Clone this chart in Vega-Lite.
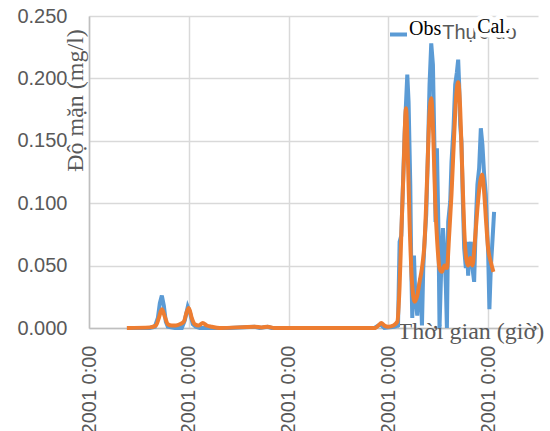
{
  "$schema": "https://vega.github.io/schema/vega-lite/v6.json",
  "width": 449,
  "height": 312,
  "autosize": "none",
  "padding": {"left": 89, "top": 16, "right": 12, "bottom": 103},
  "background": "white",
  "config": {"view": {"stroke": null}},
  "datasets": {
    "obs": [
      {"time":0.38,"salinity":0},{"time":0.61,"salinity":0},{"time":0.66,"salinity":0.001},{"time":0.69,"salinity":0.008},{"time":0.71,"salinity":0.02},{"time":0.73,"salinity":0.026},{"time":0.75,"salinity":0.018},{"time":0.77,"salinity":0.005},{"time":0.79,"salinity":0.001},{"time":0.86,"salinity":0},{"time":0.93,"salinity":0},{"time":0.96,"salinity":0.006},{"time":0.99,"salinity":0.017},{"time":1.01,"salinity":0.013},{"time":1.04,"salinity":0.003},{"time":1.07,"salinity":0.001},{"time":1.11,"salinity":0},{"time":1.41,"salinity":0},{"time":1.66,"salinity":0.001},{"time":1.71,"salinity":0},{"time":1.79,"salinity":0.001},{"time":1.83,"salinity":0},{"time":2.86,"salinity":0},{"time":2.92,"salinity":0.003},{"time":2.96,"salinity":0},{"time":3.06,"salinity":0.001},{"time":3.097,"salinity":0.002},{"time":3.113,"salinity":0.069},{"time":3.13,"salinity":0.074},{"time":3.163,"salinity":0.155},{"time":3.19,"salinity":0.203},{"time":3.203,"salinity":0.181},{"time":3.22,"salinity":0.115},{"time":3.23,"salinity":0.048},{"time":3.24,"salinity":0.008},{"time":3.257,"salinity":0.058},{"time":3.27,"salinity":0.026},{"time":3.29,"salinity":0.01},{"time":3.307,"salinity":0.032},{"time":3.323,"salinity":0.04},{"time":3.337,"salinity":0.002},{"time":3.35,"salinity":0.048},{"time":3.363,"salinity":0.069},{"time":3.38,"salinity":0.091},{"time":3.397,"salinity":0.141},{"time":3.413,"salinity":0.195},{"time":3.43,"salinity":0.228},{"time":3.447,"salinity":0.211},{"time":3.463,"salinity":0.141},{"time":3.473,"salinity":0.085},{"time":3.487,"salinity":0.144},{"time":3.503,"salinity":0.075},{"time":3.513,"salinity":0},{"time":3.53,"salinity":0.048},{"time":3.547,"salinity":0.08},{"time":3.563,"salinity":0.061},{"time":3.577,"salinity":0.032},{"time":3.587,"salinity":0},{"time":3.6,"salinity":0.085},{"time":3.62,"salinity":0.101},{"time":3.633,"salinity":0.133},{"time":3.653,"salinity":0.16},{"time":3.67,"salinity":0.195},{"time":3.687,"salinity":0.205},{"time":3.7,"salinity":0.215},{"time":3.71,"salinity":0.195},{"time":3.72,"salinity":0.163},{"time":3.733,"salinity":0.149},{"time":3.747,"salinity":0.101},{"time":3.76,"salinity":0.064},{"time":3.777,"salinity":0.048},{"time":3.787,"salinity":0.069},{"time":3.8,"salinity":0.042},{"time":3.81,"salinity":0.061},{"time":3.827,"salinity":0.069},{"time":3.843,"salinity":0.048},{"time":3.86,"salinity":0.037},{"time":3.877,"salinity":0.085},{"time":3.893,"salinity":0.115},{"time":3.91,"salinity":0.128},{"time":3.927,"salinity":0.16},{"time":3.943,"salinity":0.147},{"time":3.96,"salinity":0.123},{"time":3.977,"salinity":0.107},{"time":3.987,"salinity":0.085},{"time":4.0,"salinity":0.061},{"time":4.013,"salinity":0.015},{"time":4.027,"salinity":0.048},{"time":4.043,"salinity":0.069},{"time":4.06,"salinity":0.093}
    ],
    "cal": [
      {"time":0.38,"salinity":0},{"time":0.61,"salinity":0.0005},{"time":0.67,"salinity":0.002},{"time":0.7,"salinity":0.008},{"time":0.73,"salinity":0.015},{"time":0.76,"salinity":0.009},{"time":0.79,"salinity":0.003},{"time":0.83,"salinity":0.002},{"time":0.87,"salinity":0.002},{"time":0.91,"salinity":0.003},{"time":0.95,"salinity":0.005},{"time":0.98,"salinity":0.013},{"time":1.0,"salinity":0.016},{"time":1.03,"salinity":0.008},{"time":1.06,"salinity":0.003},{"time":1.1,"salinity":0.002},{"time":1.14,"salinity":0.004},{"time":1.18,"salinity":0.002},{"time":1.23,"salinity":0.001},{"time":1.31,"salinity":0},{"time":1.66,"salinity":0.001},{"time":1.73,"salinity":0.0005},{"time":1.79,"salinity":0.001},{"time":1.86,"salinity":0},{"time":2.87,"salinity":0},{"time":2.9,"salinity":0.002},{"time":2.93,"salinity":0.004},{"time":2.96,"salinity":0.002},{"time":3.0,"salinity":0.001},{"time":3.05,"salinity":0.002},{"time":3.09,"salinity":0.005},{"time":3.113,"salinity":0.034},{"time":3.13,"salinity":0.075},{"time":3.153,"salinity":0.128},{"time":3.177,"salinity":0.176},{"time":3.197,"salinity":0.133},{"time":3.213,"salinity":0.085},{"time":3.237,"salinity":0.037},{"time":3.263,"salinity":0.021},{"time":3.29,"salinity":0.026},{"time":3.313,"salinity":0.037},{"time":3.337,"salinity":0.048},{"time":3.363,"salinity":0.069},{"time":3.39,"salinity":0.123},{"time":3.41,"salinity":0.168},{"time":3.43,"salinity":0.184},{"time":3.45,"salinity":0.155},{"time":3.47,"salinity":0.101},{"time":3.49,"salinity":0.069},{"time":3.513,"salinity":0.048},{"time":3.537,"salinity":0.045},{"time":3.563,"salinity":0.05},{"time":3.587,"salinity":0.048},{"time":3.61,"salinity":0.075},{"time":3.633,"salinity":0.107},{"time":3.66,"salinity":0.155},{"time":3.683,"salinity":0.189},{"time":3.7,"salinity":0.197},{"time":3.72,"salinity":0.176},{"time":3.74,"salinity":0.128},{"time":3.76,"salinity":0.08},{"time":3.78,"salinity":0.056},{"time":3.8,"salinity":0.05},{"time":3.82,"salinity":0.056},{"time":3.843,"salinity":0.05},{"time":3.867,"salinity":0.069},{"time":3.893,"salinity":0.096},{"time":3.92,"salinity":0.117},{"time":3.94,"salinity":0.123},{"time":3.96,"salinity":0.109},{"time":3.98,"salinity":0.085},{"time":4.0,"salinity":0.064},{"time":4.027,"salinity":0.053},{"time":4.053,"salinity":0.045}
    ],
    "notes": [
      {"note": "Thực đo", "at_time": 3.54, "at_salinity": 0.2316},
      {"note": "Cal.", "at_time": 3.89, "at_salinity": 0.2364}
    ]
  },
  "layer": [
    {
      "data": {"name": "obs"},
      "transform": [{"calculate": "'Obs'", "as": "series"}],
      "mark": {"type": "line", "strokeWidth": 4},
      "encoding": {
        "x": {
          "field": "time", "type": "quantitative",
          "scale": {"domain": [0, 4.5], "nice": false, "zero": false},
          "axis": {
            "values": [0, 1, 2, 3, 4],
            "labelExpr": "'2001 0:00'",
            "labelAngle": 270,
            "labelFont": "Liberation Sans", "labelFontSize": 20, "labelColor": "#595959",
            "labelPadding": 17, "labelFlush": false, "labelOverlap": false, "labelBound": false,
            "ticks": false, "domainColor": "#BFBFBF", "domainWidth": 1.5,
            "grid": true, "gridColor": "#D9D9D9", "gridWidth": 1.5,
            "title": "Thời gian (giờ)",
            "titleFont": "Liberation Serif", "titleFontSize": 24, "titleFontWeight": "normal", "titleColor": "#595959",
            "titleX": 308, "titleY": 10, "titleAlign": "left", "titleBaseline": "alphabetic"
          }
        },
        "y": {
          "field": "salinity", "type": "quantitative",
          "scale": {"domain": [0, 0.25], "nice": false},
          "axis": {
            "values": [0, 0.05, 0.1, 0.15, 0.2, 0.25],
            "format": ".3f",
            "labelFont": "Liberation Sans", "labelFontSize": 20, "labelColor": "#595959",
            "labelPadding": 22, "labelFlush": false, "labelOverlap": false,
            "ticks": false, "domainColor": "#BFBFBF", "domainWidth": 1.5,
            "grid": true, "gridColor": "#D9D9D9", "gridWidth": 1.5,
            "title": "Độ mặn (mg/l)",
            "titleFont": "Liberation Serif", "titleFontSize": 24, "titleFontWeight": "normal", "titleColor": "#595959",
            "titleAngle": 270, "titleX": -7, "titleY": 84, "titleAlign": "center", "titleBaseline": "alphabetic"
          }
        },
        "color": {
          "field": "series", "type": "nominal",
          "scale": {"domain": ["Obs", "Cal."], "range": ["#5B9BD5", "#ED7D31"]},
          "legend": {
            "values": ["Obs"], "orient": "none", "legendX": 299, "legendY": 8,
            "title": null, "padding": 0,
            "symbolType": "stroke", "symbolSize": 289, "symbolStrokeWidth": 4,
            "labelFont": "Liberation Serif", "labelFontSize": 20, "labelColor": "black",
            "labelBaseline": "alphabetic", "labelOffset": 0
          }
        }
      }
    },
    {
      "data": {"name": "cal"},
      "transform": [{"calculate": "'Cal.'", "as": "series"}],
      "mark": {"type": "line", "strokeWidth": 4, "interpolate": "monotone"},
      "encoding": {
        "x": {"field": "time", "type": "quantitative"},
        "y": {"field": "salinity", "type": "quantitative"},
        "color": {"field": "series", "type": "nominal"}
      }
    },
    {
      "data": {"name": "notes"},
      "transform": [{"filter": "datum.note === 'Thực đo'"}],
      "mark": {"type": "text", "font": "Liberation Sans", "fontSize": 20, "fill": "#595959", "align": "left", "baseline": "alphabetic"},
      "encoding": {
        "x": {"field": "at_time", "type": "quantitative"},
        "y": {"field": "at_salinity", "type": "quantitative"},
        "text": {"field": "note"}
      }
    },
    {
      "data": {"name": "notes"},
      "transform": [{"filter": "datum.note === 'Cal.'"}],
      "mark": {"type": "text", "font": "Liberation Serif", "fontSize": 20, "fill": "white", "stroke": "white", "strokeWidth": 9, "strokeJoin": "round", "align": "left", "baseline": "alphabetic"},
      "encoding": {
        "x": {"field": "at_time", "type": "quantitative"},
        "y": {"field": "at_salinity", "type": "quantitative"},
        "text": {"field": "note"}
      }
    },
    {
      "data": {"name": "notes"},
      "transform": [{"filter": "datum.note === 'Cal.'"}],
      "mark": {"type": "text", "font": "Liberation Serif", "fontSize": 20, "fill": "black", "align": "left", "baseline": "alphabetic"},
      "encoding": {
        "x": {"field": "at_time", "type": "quantitative"},
        "y": {"field": "at_salinity", "type": "quantitative"},
        "text": {"field": "note"}
      }
    }
  ]
}
